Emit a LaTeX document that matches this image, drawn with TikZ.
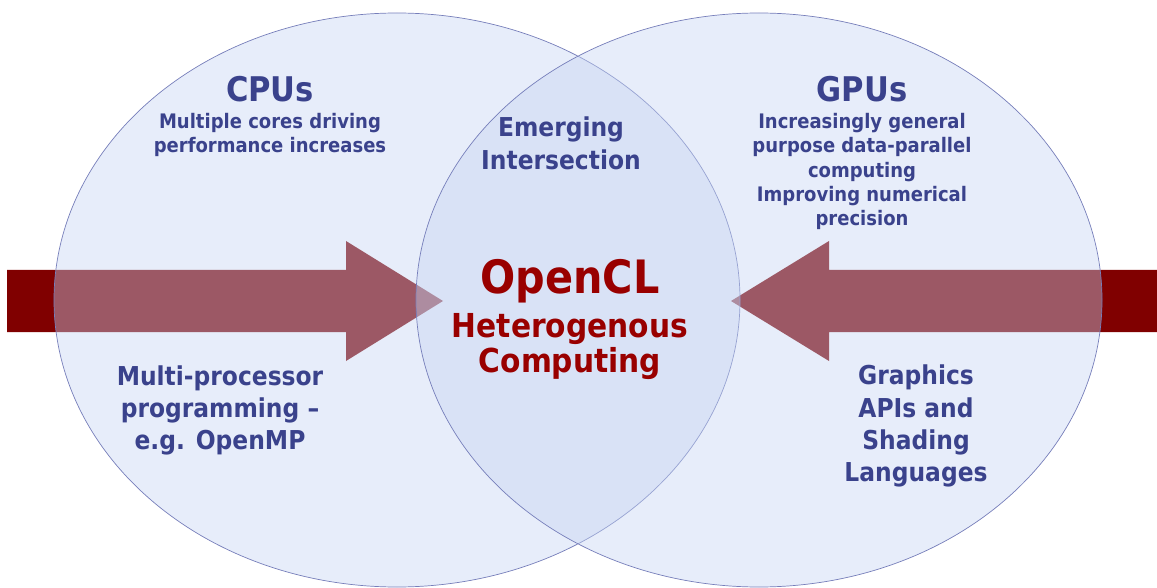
\documentclass[tikz,border=0pt]{standalone}
\usepackage{fontspec}
\newfontfamily\lblfont{DejaVu Sans}[FakeStretch=0.9]
\definecolor{txtblue}{RGB}{58,66,140}
\definecolor{txtred}{RGB}{153,0,0}
\definecolor{arrowred}{RGB}{128,0,0}
\definecolor{ellfill}{RGB}{197,212,242}
\definecolor{elldraw}{RGB}{118,126,186}
\tikzset{
  lbl/.style={anchor=base, inner sep=0pt, text=txtblue, font=\lblfont\bfseries\fontsize{#1}{#1}\selectfont},
  rlbl/.style={anchor=base, inner sep=0pt, text=txtred, font=\lblfont\bfseries\fontsize{#1}{#1}\selectfont},
  bigarrow/.style={fill=arrowred, draw=none},
  venn/.style={fill=ellfill, fill opacity=0.42, draw=elldraw, draw opacity=1, line width=0.7pt}
}
\begin{document}
\begin{tikzpicture}[x=1pt, y=-1pt]
\useasboundingbox (0,0) rectangle (1157,588);
% arrows (beneath the translucent circles)
\path[bigarrow] (7,270) -- (346,270) -- (346,241) -- (443,301) -- (346,361) -- (346,332) -- (7,332) -- cycle;
\path[bigarrow] (1157,270) -- (829,270) -- (829,241) -- (731,301) -- (829,361) -- (829,332) -- (1157,332) -- cycle;
% ellipses
\path[venn] (397,300) ellipse [x radius=343, y radius=287];
\path[venn] (759,300) ellipse [x radius=343, y radius=287];
% CPU side
\node[lbl=34] (cpus) at (270,102) {CPUs};
\node[lbl=20] (cpu1) at (270,129) {Multiple cores driving};
\node[lbl=20] (cpu2) at (270,153) {performance increases};
\node[lbl=26] (mp1) at (220,385) {Multi-processor};
\node[lbl=26] (mp2) at (220,417) {programming –};
\node[lbl=26] (mp3) at (220,449) {e.g. OpenMP};
% GPU side
\node[lbl=34] (gpus) at (862,102) {GPUs};
\node[lbl=20] (gpu1) at (862,129) {Increasingly general};
\node[lbl=20] (gpu2) at (862,153) {purpose data-parallel};
\node[lbl=20] (gpu3) at (862,177.5) {computing};
\node[lbl=20] (gpu4) at (862,202) {Improving numerical};
\node[lbl=20] (gpu5) at (862,226) {precision};
\node[lbl=26] (gr1) at (916,384) {Graphics};
\node[lbl=26] (gr2) at (916,417) {APIs and};
\node[lbl=26] (gr3) at (916,449) {Shading};
\node[lbl=26] (gr4) at (916,481) {Languages};
% intersection
\node[lbl=26] (em1) at (561,137) {Emerging};
\node[lbl=26] (em2) at (561,170) {Intersection};
\node[rlbl=46] (ocl) at (570,293) {OpenCL};
\node[rlbl=33] (het) at (570,337) {Heterogenous};
\node[rlbl=33] (comp) at (570,372) {Computing};
\end{tikzpicture}
\end{document}
